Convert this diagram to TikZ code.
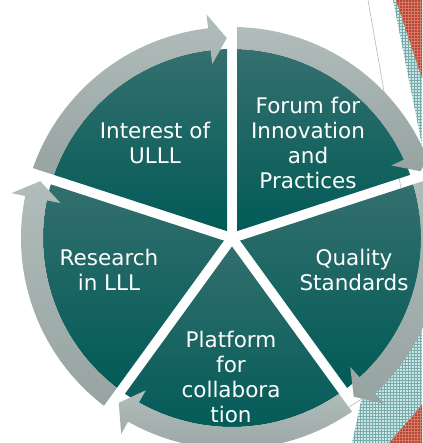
\documentclass[tikz,border=0pt]{standalone}
\usepackage{fontspec}
\setmainfont{DejaVu Sans}
\usetikzlibrary{patterns,calc}
\definecolor{segtop}{RGB}{52,112,110}
\definecolor{segbot}{RGB}{0,90,87}
\definecolor{ringtop}{RGB}{176,189,187}
\definecolor{ringbot}{RGB}{150,163,161}
\definecolor{patbase}{RGB}{205,228,228}
\definecolor{patdot}{RGB}{118,172,172}
\definecolor{redbase}{RGB}{184,68,50}
\definecolor{reddot}{RGB}{212,122,104}
\definecolor{thinline}{RGB}{185,185,185}
\begin{document}
\begin{tikzpicture}[x=1pt,y=1pt,
  seg/.style={top color=segtop,bottom color=segbot},
  ringarrow/.style={top color=ringtop,bottom color=ringbot},
  lbl/.style={text=white,font=\fontsize{21.5}{25}\selectfont,align=center,anchor=north,inner sep=0pt},
  patzone/.style={fill=patbase,postaction={pattern=grid,pattern color=patdot}},
  redzone/.style={fill=redbase,postaction={pattern=grid,pattern color=reddot}},
  deco/.style={draw=thinline,line width=0.6pt}]
\useasboundingbox (0,0) rectangle (422,443);
\fill[white] (0,0) rectangle (422,443);
% background decorations
\fill[patzone] (393,443) -- (422,443) -- (422,298) -- cycle;
\fill[redzone] (396,443) -- (422,443) -- (422,365) -- cycle;
\fill[patzone] (422,243) -- (422,0) -- (352,0) -- (362,46) -- (380,143) -- cycle;
\fill[redzone] (389,0) -- (422,0) -- (422,38) -- cycle;
\coordinate (t1) at (368,443);
\coordinate (t2) at (410,203);
\draw[deco] (t1) -- (t2);
\coordinate (b1) at (335,27);
\coordinate (b2) at (368,48);
\draw[deco] (b1) -- (b2);
\coordinate (C) at (232,205);
\foreach \e/\s in {90/162, 18/90, -54/18, -126/-54, 162/234} {
  \pgfmathsetmacro\angM{(\e+\s)/2}
  \pgfmathsetmacro\angB{\e+6.5}
  \pgfmathsetmacro\angT{\e+1.5}
  \begin{scope}
    \coordinate (A) at ([shift={(C)}]\angM:8.5pt);
    \clip (A) -- ([shift={(A)}]\e:320pt) -- ([shift={(A)}]\angM:450pt) -- ([shift={(A)}]\s:320pt) -- cycle;
    \shade[seg] (C) -- ([shift={(C)}]\e:189pt) arc[start angle=\e, end angle=\s, radius=189pt] -- cycle;
    \shade[ringarrow] ([shift={(C)}]\s:211pt) arc[start angle=\s, end angle=\angB, radius=211pt]
      -- ([shift={(C)}]\angB:225pt) -- ([shift={(C)}]\angT:200pt) -- ([shift={(C)}]\angB:175pt)
      -- ([shift={(C)}]\angB:189pt) arc[start angle=\angB, end angle=\s, radius=189pt] -- cycle;
  \end{scope}
}
\node[lbl] (interest) at (155,321.3) {Interest of\\ULLL};
\node[lbl] (forum) at (308,346.3) {Forum for\\Innovation\\and\\Practices};
\node[lbl] (quality) at (354,194.3) {Quality\\Standards};
\node[lbl] (research) at (109,194.3) {Research\\in LLL};
\node[lbl] (platform) at (231,112.3) {Platform\\for\\collabora\\tion};
\end{tikzpicture}
\end{document}
